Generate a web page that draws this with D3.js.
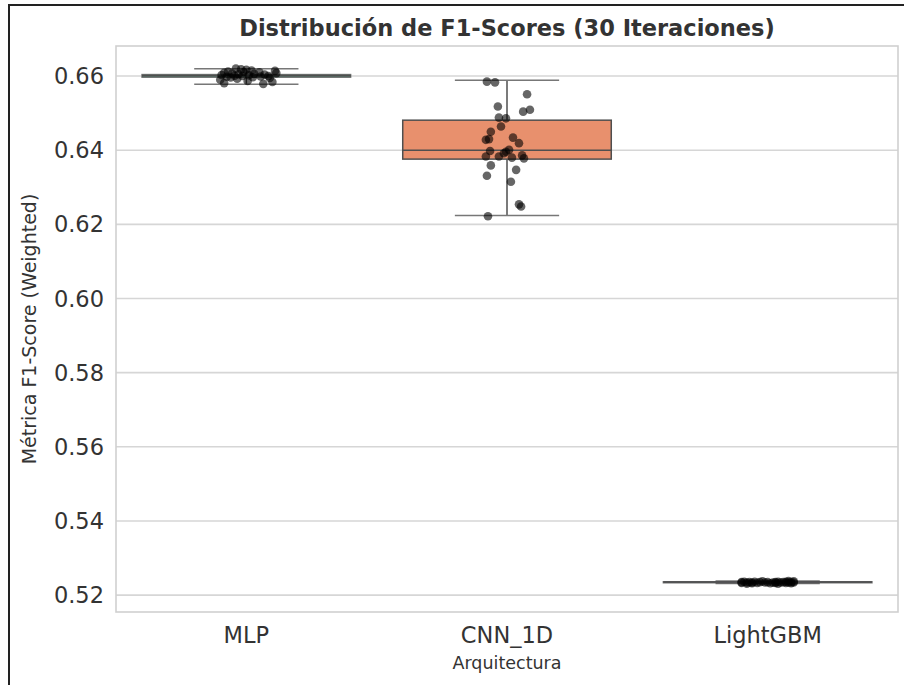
<!DOCTYPE html>
<html>
<head>
<meta charset="utf-8">
<script src="https://cdn.jsdelivr.net/npm/d3@7"></script>
<style>
  body { margin: 0; background: #fff; }
  text { font-family: "DejaVu Sans", sans-serif; fill: #333; }
</style>
</head>
<body>
<svg id="chart" width="904" height="685"></svg>
<script>
// Categories and tick labels
const categories = ["MLP", "CNN_1D", "LightGBM"];
const yTicks = [0.52, 0.54, 0.56, 0.58, 0.60, 0.62, 0.64, 0.66];

// Box stats: [whisker low, q1, median, q3, whisker high]
const mlpStats = [0.6578, 0.6597, 0.6601, 0.6604, 0.6620];
const cnnStats = [0.6224, 0.6376, 0.6400, 0.6481, 0.6589];
const lgbStats = [0.5231, 0.5234, 0.5235, 0.5236, 0.5238];

// F1 scores of the 30 iterations
const mlpScores = [0.6620, 0.6618, 0.6617, 0.6615, 0.6614, 0.6612, 0.6611, 0.6610, 0.6609, 0.6608,
  0.6607, 0.6606, 0.6605, 0.6604, 0.6603, 0.6602, 0.6601, 0.6600, 0.6600, 0.6599,
  0.6598, 0.6597, 0.6596, 0.6595, 0.6593, 0.6590, 0.6587, 0.6584, 0.6581, 0.6579];
const cnnScores = [0.6585, 0.6583, 0.6551, 0.6518, 0.6504, 0.6509, 0.6488, 0.6486, 0.6464, 0.6450,
  0.6430, 0.6428, 0.6434, 0.6419, 0.6398, 0.6383, 0.6383, 0.6396, 0.6380, 0.6386,
  0.6378, 0.6359, 0.6347, 0.6331, 0.6315, 0.6254, 0.6248, 0.6222, 0.6392, 0.6401];
const lgbScores = [0.5238, 0.5237, 0.5237, 0.5236, 0.5236, 0.5236, 0.5236, 0.5235, 0.5235, 0.5235,
  0.5235, 0.5235, 0.5235, 0.5235, 0.5234, 0.5234, 0.5234, 0.5234, 0.5234, 0.5234,
  0.5234, 0.5233, 0.5233, 0.5233, 0.5233, 0.5232, 0.5232, 0.5232, 0.5231, 0.5231];

// stripplot jitter (fraction of band)
const mlpJitter = [-0.04, -0.02, 0, 0.02, 0.11, -0.07, -0.01, 0.05, -0.085, 0.115,
  -0.055, 0.03, -0.03, 0.07, -0.095, 0.01, -0.045, 0.085, -0.015, 0.055,
  -0.075, 0.025, -0.06, 0.09, -0.035, -0.1, 0.005, 0.1, -0.085, 0.065];
const cnnJitter = [-0.077, -0.046, 0.077, -0.035, 0.062, 0.088, -0.031, -0.004, -0.023, -0.062,
  -0.069, -0.081, 0.023, 0.046, -0.065, -0.081, -0.031, -0.004, 0.019, 0.058,
  0.065, -0.062, 0.035, -0.077, 0.015, 0.046, 0.054, -0.073, -0.012, 0.008];
const lgbJitter = [0.08, -0.02, 0.1, -0.09, 0.04, 0.07, -0.05, 0.0, -0.07, 0.09,
  0.03, -0.1, 0.06, -0.03, 0.1, -0.06, 0.02, -0.08, 0.05, -0.01,
  0.08, -0.04, 0.03, -0.1, 0.07, -0.06, 0.01, 0.09, -0.08, 0.04];

const colors = ["#6aa892", "#e8906d", "#94a1c3"];

const svg = d3.select("#chart");

// outer frame of the screenshot
svg.append("path")
  .attr("d", "M9,685 V5 H904")
  .attr("fill", "none")
  .attr("stroke", "#222")
  .attr("stroke-width", 2);

const plotL = 116, plotR = 898, plotT = 46, plotB = 612;

let x = d3.scaleBand().domain(categories).range([plotL, plotR]);
let y = d3.scaleLinear().domain([0.51544, 0.66811]).range([plotB, plotT]);

// grid
svg.append("g")
  .selectAll("line")
  .data(yTicks)
  .join("line")
  .attr("x1", plotL).attr("x2", plotR)
  .attr("y1", (d) => y(d)).attr("y2", (d) => y(d))
  .attr("stroke", "#d6d6d6")
  .attr("stroke-width", 1.6);

// frame
svg.append("rect")
  .attr("x", plotL).attr("y", plotT)
  .attr("width", plotR - plotL).attr("height", plotB - plotT)
  .attr("fill", "none")
  .attr("stroke", "#d0d0d0")
  .attr("stroke-width", 1.6);

// y tick labels
svg.append("g")
  .selectAll("text")
  .data(yTicks)
  .join("text")
  .attr("x", 104)
  .attr("y", (d) => y(d))
  .attr("dy", "0.36em")
  .attr("text-anchor", "end")
  .style("font-size", "22.5px")
  .text((d) => d3.format(".2f")(d));

// x tick labels
svg.append("g")
  .selectAll("text")
  .data(categories)
  .join("text")
  .attr("x", (d) => x(d) + x.bandwidth() / 2)
  .attr("y", 643)
  .attr("text-anchor", "middle")
  .style("font-size", "22.5px")
  .text((d) => d);

// boxes
const stats = [mlpStats, cnnStats, lgbStats];
const boxW = x.bandwidth() * 0.8;
const lineColor = "#4f4f4f";

categories.forEach((cat, i) => {
  const s = stats[i];
  const cx = x(cat) + x.bandwidth() / 2;
  const g = svg.append("g");
  // whiskers
  g.append("line")
    .attr("x1", cx).attr("x2", cx)
    .attr("y1", y(s[0])).attr("y2", y(s[1]))
    .attr("stroke", lineColor).attr("stroke-width", 1.5);
  g.append("line")
    .attr("x1", cx).attr("x2", cx)
    .attr("y1", y(s[3])).attr("y2", y(s[4]))
    .attr("stroke", lineColor).attr("stroke-width", 1.5);
  // caps
  [s[0], s[4]].forEach((v) => {
    g.append("line")
      .attr("x1", cx - boxW / 4).attr("x2", cx + boxW / 4)
      .attr("y1", y(v)).attr("y2", y(v))
      .attr("stroke", "#777").attr("stroke-width", 1.5);
  });
  // box
  g.append("rect")
    .attr("x", cx - boxW / 2)
    .attr("y", y(s[3]))
    .attr("width", boxW)
    .attr("height", Math.max(y(s[1]) - y(s[3]), 1))
    .attr("fill", colors[i])
    .attr("stroke", lineColor)
    .attr("stroke-opacity", i === 1 ? 1 : 0.8)
    .attr("stroke-width", 1.5);
  // median
  g.append("line")
    .attr("x1", cx - boxW / 2).attr("x2", cx + boxW / 2)
    .attr("y1", y(s[2])).attr("y2", y(s[2]))
    .attr("stroke", lineColor).attr("stroke-width", 1.5);
});

// points
const scores = [mlpScores, cnnScores, lgbScores];
const jitters = [mlpJitter, cnnJitter, lgbJitter];
categories.forEach((cat, i) => {
  const cx = x(cat) + x.bandwidth() / 2;
  svg.append("g")
    .selectAll("circle")
    .data(scores[i])
    .join("circle")
    .attr("cx", (d, j) => cx + jitters[i][j] * x.bandwidth())
    .attr("cy", (d) => y(d))
    .attr("r", 4.3)
    .attr("fill", "#000")
    .attr("fill-opacity", 0.6);
});

// title and axis labels
svg.append("text")
  .attr("x", (plotL + plotR) / 2)
  .attr("y", 36)
  .attr("text-anchor", "middle")
  .style("font-size", "22.5px")
  .style("font-weight", "bold")
  .text("Distribución de F1-Scores (30 Iteraciones)");

svg.append("text")
  .attr("x", (plotL + plotR) / 2)
  .attr("y", 669)
  .attr("text-anchor", "middle")
  .style("font-size", "17.5px")
  .text("Arquitectura");

svg.append("text")
  .attr("transform", `translate(36,${(plotT + plotB) / 2}) rotate(-90)`)
  .attr("text-anchor", "middle")
  .style("font-size", "19px")
  .text("Métrica F1-Score (Weighted)");
</script>
</body>
</html>
